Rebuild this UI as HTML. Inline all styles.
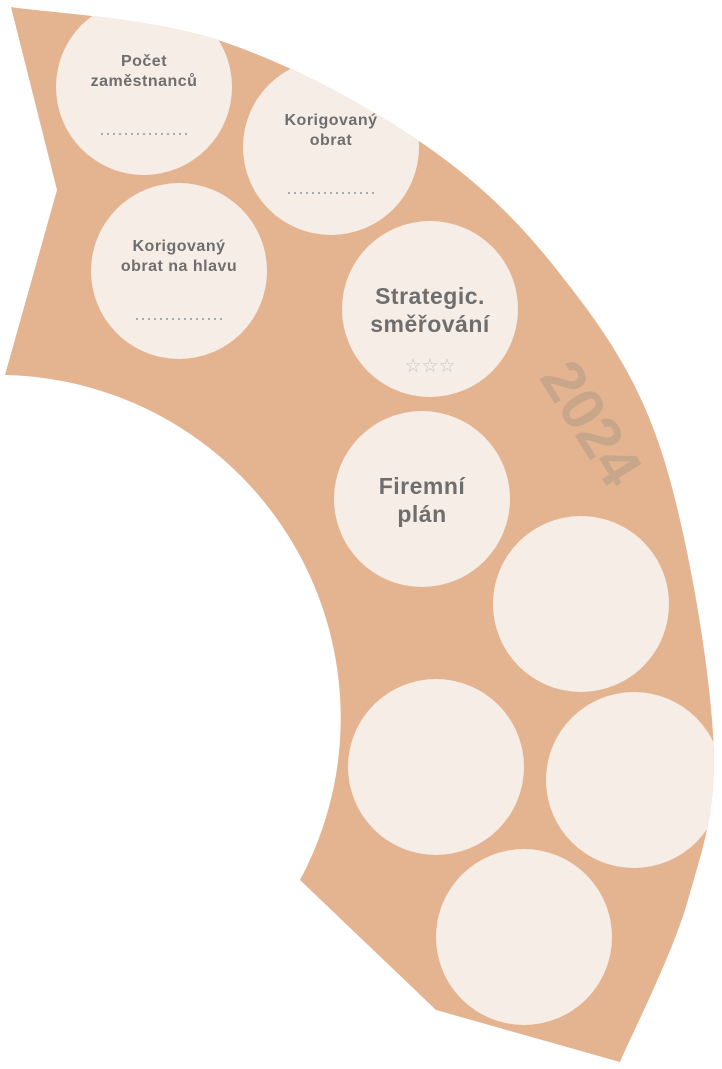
<!DOCTYPE html>
<html><head><meta charset="utf-8"><style>
html,body{margin:0;padding:0;background:#fff;}
svg{display:block;}
text{font-family:"Liberation Sans","DejaVu Sans",sans-serif;font-weight:bold;fill:#6e6e6e;text-anchor:middle;}
</style></head><body>
<svg width="722" height="1069" viewBox="0 0 722 1069" xmlns="http://www.w3.org/2000/svg">
<defs><clipPath id="b"><path d="M11,7 C45.5,12.5 150,17.7 218,40 C286,62.3 362.5,102.7 419,141 C475.5,179.3 516.8,219 557,270 C597.2,321 634,369.8 660,447 C686,524.2 708.3,657.5 713,733 C717.7,808.5 703.5,845.2 688,900 C672.5,954.8 631.3,1035 620,1062 L436,1010 L300,880 A343,343 0 0 0 5,375 L57,190 Z"/></clipPath></defs>
<path d="M11,7 C45.5,12.5 150,17.7 218,40 C286,62.3 362.5,102.7 419,141 C475.5,179.3 516.8,219 557,270 C597.2,321 634,369.8 660,447 C686,524.2 708.3,657.5 713,733 C717.7,808.5 703.5,845.2 688,900 C672.5,954.8 631.3,1035 620,1062 L436,1010 L300,880 A343,343 0 0 0 5,375 L57,190 Z" fill="#e4b390"/>
<g fill="#f7ede7" clip-path="url(#b)">
<circle cx="144" cy="87" r="88"/>
<circle cx="331" cy="147" r="88"/>
<circle cx="179" cy="271" r="88"/>
<circle cx="430" cy="309" r="88"/>
<circle cx="422" cy="499" r="88"/>
<circle cx="581" cy="604" r="88"/>
<circle cx="436" cy="767" r="88"/>
<circle cx="634" cy="780" r="88"/>
<circle cx="524" cy="937" r="88"/>
</g>
<text x="144" y="66" font-size="16" letter-spacing="0.5">Počet</text>
<text x="144" y="86" font-size="16" letter-spacing="0.5">zaměstnanců</text>
<line x1="101" y1="134" x2="188" y2="134" stroke="#a9a9a9" stroke-width="2" stroke-dasharray="2,4"/>
<text x="331" y="125" font-size="16" letter-spacing="0.5">Korigovaný</text>
<text x="331" y="145" font-size="16" letter-spacing="0.5">obrat</text>
<line x1="288" y1="193" x2="375" y2="193" stroke="#a9a9a9" stroke-width="2" stroke-dasharray="2,4"/>
<text x="179" y="251" font-size="16" letter-spacing="0.5">Korigovaný</text>
<text x="179" y="271" font-size="16" letter-spacing="0.5">obrat na hlavu</text>
<line x1="136" y1="319" x2="223" y2="319" stroke="#a9a9a9" stroke-width="2" stroke-dasharray="2,4"/>
<text x="430" y="304" font-size="23" letter-spacing="0.5">Strategic.</text>
<text x="430" y="332" font-size="23" letter-spacing="0.5">směřování</text>
<text x="430" y="372" font-size="19" style="font-weight:normal;fill:#c4c4c4">☆☆☆</text>
<text x="422" y="494" font-size="23" letter-spacing="0.5">Firemní</text>
<text x="422" y="522" font-size="23" letter-spacing="0.5">plán</text>
<text x="590" y="443" font-size="60" transform="rotate(58 590 424)" style="fill:#c8a68a">2024</text>
</svg>
</body></html>
